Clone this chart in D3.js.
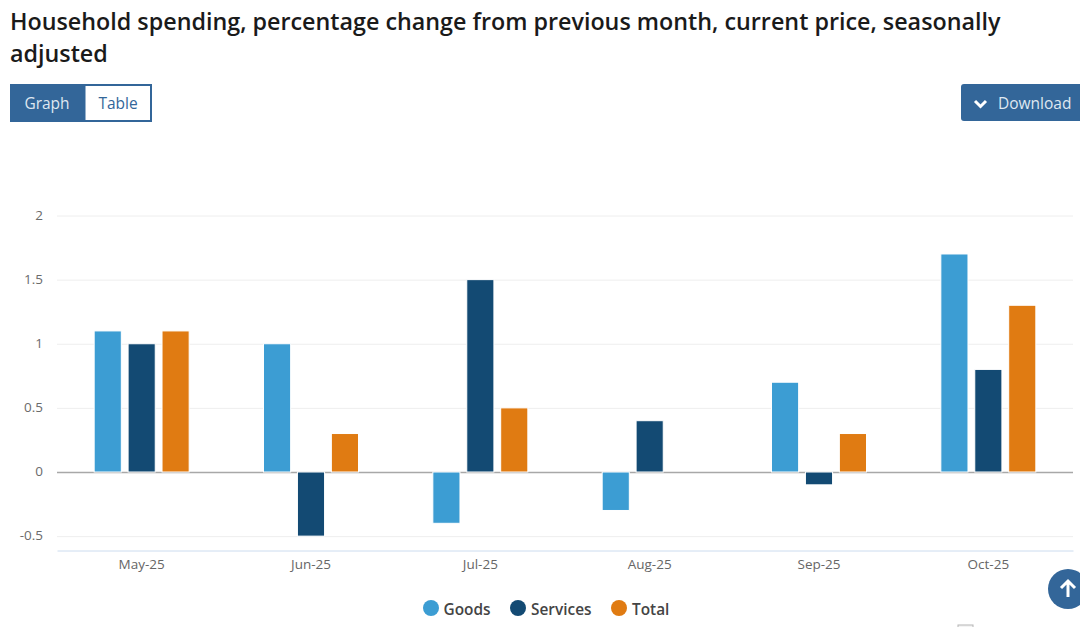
<!DOCTYPE html>
<html><head><meta charset="utf-8">
<script src="https://cdn.jsdelivr.net/npm/d3@7"></script>
<style>
html,body{margin:0;padding:0;background:#fff;overflow:hidden}
svg{display:block;font-family:"Open Sans",sans-serif}
</style></head><body>
<svg id="c" width="1080" height="627"></svg>
<script>
const categories=["May-25","Jun-25","Jul-25","Aug-25","Sep-25","Oct-25"];
const goods=[1.1,1.0,-0.4,-0.3,0.7,1.7];
const services=[1.0,-0.5,1.5,0.4,-0.1,0.8];
const total=[1.1,0.3,0.5,0,0.3,1.3];
const seriesNames=["Goods","Services","Total"];
const seriesColors=["#3c9dd3","#134a73","#e07b12"];
const yTicks=[-0.5,0,0.5,1,1.5,2];
const titleLines=["Household spending, percentage change from previous month, current price, seasonally","adjusted"];
const series=[goods,services,total];

const svg=d3.select("#c");
const x=d3.scaleBand().domain(categories).range([57,1073]);
const inner=d3.scaleBand().domain(seriesNames).range([-47.5,47.5]).paddingInner(0.2);
const y=d3.scaleLinear().domain([0,2]).range([472,215.5]);
const blue="#336699";

svg.selectAll("text.title").data(titleLines).join("text").attr("class","title")
 .attr("x",10).attr("y",(d,i)=>30+i*32).attr("font-size",23.3).attr("font-weight",600).attr("fill","#1a1a1a").text(d=>d);

// Graph / Table toggle
svg.append("rect").attr("x",11).attr("y",85).attr("width",140).attr("height",36).attr("fill","#fff").attr("stroke",blue).attr("stroke-width",2);
svg.append("rect").attr("x",10).attr("y",84).attr("width",75.5).attr("height",38).attr("fill",blue);
svg.append("text").attr("x",47).attr("y",108.5).attr("text-anchor","middle").attr("font-size",15.5).attr("fill","#dfe8f1").text("Graph");
svg.append("text").attr("x",118).attr("y",108.5).attr("text-anchor","middle").attr("font-size",15.5).attr("fill",blue).text("Table");

// Download
svg.append("rect").attr("x",961).attr("y",84).attr("width",130).attr("height",37).attr("rx",3).attr("fill",blue);
svg.append("path").attr("d","M975 101l5.5 5.5l5.5-5.5").attr("fill","none").attr("stroke","#fff").attr("stroke-width",3);
svg.append("text").attr("x",998).attr("y",108.5).attr("font-size",15.5).attr("fill","#dfe8f1").text("Download");

// axes
const axisY=svg.append("g").attr("transform","translate(57,0)")
 .call(d3.axisLeft(y).tickValues(yTicks).tickSize(-1016).tickFormat(d=>String(d)));
axisY.select(".domain").remove();
axisY.selectAll(".tick line").attr("stroke",d=>d===0?"#a8a8a8":"#eeeeee").attr("stroke-width",d=>d===0?1.6:1);
axisY.selectAll(".tick text").attr("x",-14).attr("y",-0.8).attr("font-size",13.5).attr("fill","#6b6b6b").attr("font-family","'Open Sans',sans-serif");

const axisX=svg.append("g").attr("transform","translate(0,550.5)")
 .call(d3.axisBottom(x).tickSize(0).tickPadding(9));
axisX.select(".domain").attr("stroke","#ccdcef");
axisX.selectAll(".tick text").attr("font-size",13.5).attr("fill","#666").attr("font-family","'Open Sans',sans-serif");

// bars
seriesNames.forEach((name,s)=>{
 svg.append("g").selectAll("rect").data(series[s].map((v,i)=>({v,c:categories[i]}))).join("rect")
  .filter(d=>d.v!==0)
  .attr("x",d=>x(d.c)+x.bandwidth()/2+inner(name))
  .attr("width",inner.bandwidth())
  .attr("y",d=>y(Math.max(0,d.v)))
  .attr("height",d=>Math.abs(y(d.v)-y(0)))
  .attr("fill",seriesColors[s]).attr("stroke","#fff").attr("stroke-width",1);
});

// legend
const legendX=[431,518,619], textX=[443.5,531,632];
seriesNames.forEach((name,i)=>{
 svg.append("circle").attr("cx",legendX[i]).attr("cy",608).attr("r",8).attr("fill",seriesColors[i]);
 svg.append("text").attr("x",textX[i]).attr("y",614.5).attr("font-size",15.4).attr("font-weight",600).attr("fill","#444").text(name);
});

// back to top
svg.append("circle").attr("cx",1068).attr("cy",589).attr("r",20).attr("fill",blue);
svg.append("path").attr("d","M1068 597V582M1061 588l7-7l7 7").attr("fill","none").attr("stroke","#fff").attr("stroke-width",3);

// clipped control at the lower page edge
svg.append("rect").attr("x",958).attr("y",625).attr("width",15).attr("height",8).attr("fill","#f4f4f4").attr("stroke","#b5b5b5");
</script></body></html>
